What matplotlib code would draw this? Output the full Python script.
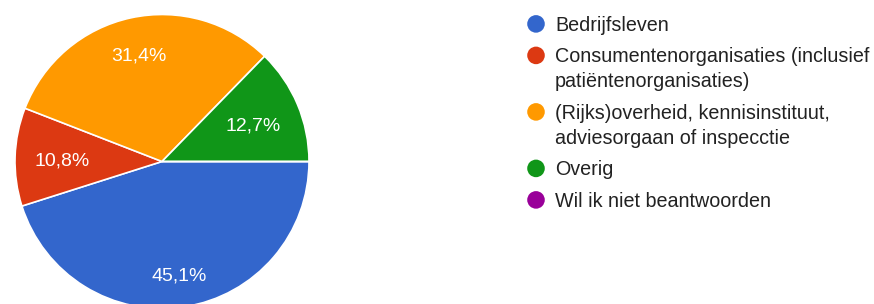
import matplotlib
matplotlib.use("Agg")
import matplotlib.pyplot as plt
import numpy as np

categories = [
    "Bedrijfsleven",
    "Consumentenorganisaties (inclusief\npatiëntenorganisaties)",
    "(Rijks)overheid, kennisinstituut,\nadviesorgaan of inspecctie",
    "Overig",
    "Wil ik niet beantwoorden",
]
values = [45.1, 10.8, 31.4, 12.7, 0.0]
colors = ["#3366cc", "#dc3912", "#ff9900", "#109618", "#990099"]
label_dist = [0.77, 0.68, 0.75, 0.67, 0.7]

W, H = 874, 304
fig = plt.figure(figsize=(W / 100, H / 100), dpi=100)
plt.rcParams["font.family"] = ["Liberation Sans", "DejaVu Sans"]

# pie axes: center (162,161.5) px, radius 147 px
cx, cy, r = 162, 161.5, 147
ax = fig.add_axes([(cx - r) / W, (H - cy - r) / H, 2 * r / W, 2 * r / H])


def fmt(p):
    return "" if p < 0.05 else f"{p:.1f}%".replace(".", ",")


wedges, texts, autotexts = ax.pie(
    values, colors=colors, startangle=0, counterclock=False, radius=1,
    autopct=fmt, pctdistance=0.77,
    wedgeprops=dict(edgecolor="white", linewidth=1.2),
    textprops=dict(color="white", fontsize=14),
)
for w, t, d in zip(wedges, autotexts, label_dist):
    a = np.deg2rad((w.theta1 + w.theta2) / 2)
    t.set_position((d * np.cos(a), d * np.sin(a) - 0.016))
ax.set_xlim(-1, 1)
ax.set_ylim(-1, 1)
ax.set_aspect("equal")
ax.axis("off")

# legend overlay in pixel coords
lg = fig.add_axes([0, 0, 1, 1])
lg.set_xlim(0, W)
lg.set_ylim(H, 0)
lg.axis("off")
y = 30.7
for cat, col in zip(categories, colors):
    lines = cat.split("\n")
    lg.scatter([536], [y - 6.8], s=160, color=col, edgecolors="none")
    for i, ln in enumerate(lines):
        lg.text(555, y + i * 25, ln, fontsize=14.2, color="#222222",
                va="baseline", ha="left")
    y += 31.5 + 25 * (len(lines) - 1)

fig.savefig("out.png", dpi=100)
